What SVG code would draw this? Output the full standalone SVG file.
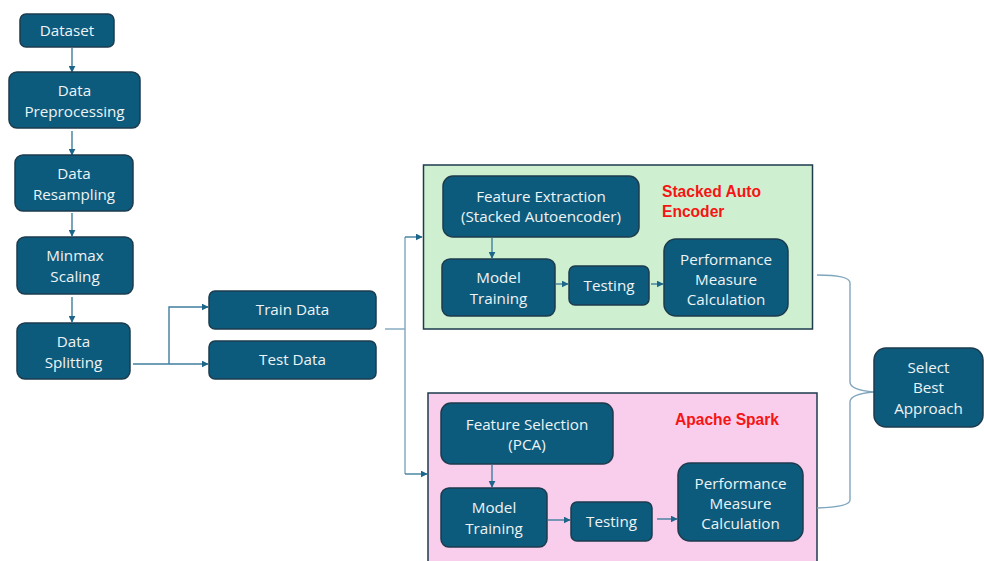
<svg xmlns="http://www.w3.org/2000/svg" width="984" height="561" viewBox="0 0 984 561">
<style>
.n{fill:#0D5B7C;stroke:#1D3B4D;stroke-width:1.5}
.t{font-family:"Open Sans","Noto Sans",sans-serif;font-size:15.2px;fill:#EEF3F6;text-anchor:middle}
.c{fill:none;stroke:#3F7E9E;stroke-width:1.4}
.b{fill:none;stroke:#7FA6BE;stroke-width:1.4}
.lbl{font-family:"Liberation Sans",Arial,sans-serif;font-size:15.6px;font-weight:bold;fill:#F51515}
</style>
<defs>
<marker id="ah" viewBox="0 0 10 10" refX="9" refY="5" markerWidth="7" markerHeight="7" markerUnits="userSpaceOnUse" orient="auto"><path d="M0,0L10,5L0,10z" fill="#1D6689"/></marker>
</defs>
<rect width="984" height="561" fill="#fff"/>
<g id="group-sae">
<rect x="423.5" y="165" width="389" height="164" fill="#CEF0D1" stroke="#1D3B4D" stroke-width="1.5"/>
<text class="lbl" x="662" y="197">Stacked Auto</text>
<text class="lbl" x="662" y="217">Encoder</text>
</g>
<g id="group-spark">
<rect x="428" y="393" width="389" height="175" fill="#F9CDEC" stroke="#1D3B4D" stroke-width="1.5"/>
<text class="lbl" x="727" y="425" text-anchor="middle">Apache Spark</text>
</g>
<g id="connectors">
<path class="c" d="M72,48V72" marker-end="url(#ah)"/>
<path class="c" d="M72,131V155" marker-end="url(#ah)"/>
<path class="c" d="M72,213V236" marker-end="url(#ah)"/>
<path class="c" d="M72,297V322" marker-end="url(#ah)"/>
<path class="c" d="M133,364H208" marker-end="url(#ah)"/>
<path class="c" d="M169,364V307H208" marker-end="url(#ah)"/>
<path class="b" d="M385,329H405"/>
<path class="b" d="M405,237V474"/>
<path class="c" d="M405,237H422" marker-end="url(#ah)"/>
<path class="c" d="M405,474H427" marker-end="url(#ah)"/>
<path class="c" d="M492,238V258" marker-end="url(#ah)"/>
<path class="c" d="M556,284H568" marker-end="url(#ah)"/>
<path class="c" d="M651,284H663" marker-end="url(#ah)"/>
<path class="c" d="M492,465V487" marker-end="url(#ah)"/>
<path class="c" d="M548,520H570" marker-end="url(#ah)"/>
<path class="c" d="M657,519H677" marker-end="url(#ah)"/>
<path class="b" d="M817,275Q850,275 850,283V382Q850,390 874,392Q850,394 850,402V500Q850,507 817,508"/>
</g>
<g id="dataset"><rect class="n" x="20" y="14" width="94" height="33" rx="6"/><text class="t" x="67" y="36">Dataset</text></g>
<g id="preprocessing"><rect class="n" x="9" y="72" width="131" height="56" rx="8"/><text class="t" x="74.5" y="96">Data</text><text class="t" x="74.5" y="117">Preprocessing</text></g>
<g id="resampling"><rect class="n" x="15" y="155" width="118" height="56" rx="8"/><text class="t" x="74" y="179">Data</text><text class="t" x="74" y="200">Resampling</text></g>
<g id="minmax"><rect class="n" x="17" y="237" width="116" height="57" rx="8"/><text class="t" x="75" y="261">Minmax</text><text class="t" x="75" y="282">Scaling</text></g>
<g id="splitting"><rect class="n" x="17" y="323" width="113" height="56" rx="8"/><text class="t" x="73.5" y="347">Data</text><text class="t" x="73.5" y="368">Splitting</text></g>
<g id="train"><rect class="n" x="209" y="291" width="167" height="38" rx="6"/><text class="t" x="292.5" y="315">Train Data</text></g>
<g id="test"><rect class="n" x="209" y="341" width="167" height="38" rx="6"/><text class="t" x="292.5" y="365">Test Data</text></g>
<g id="fe"><rect class="n" x="443" y="176" width="196" height="61" rx="10"/><text class="t" x="541" y="202">Feature Extraction</text><text class="t" x="541" y="222">(Stacked Autoencoder)</text></g>
<g id="mt1"><rect class="n" x="442" y="259" width="113" height="57" rx="8"/><text class="t" x="498.5" y="283">Model</text><text class="t" x="498.5" y="304">Training</text></g>
<g id="test1"><rect class="n" x="569" y="266" width="80" height="39" rx="6"/><text class="t" x="609" y="291">Testing</text></g>
<g id="pm1"><rect class="n" x="664" y="239" width="124" height="77" rx="12"/><text class="t" x="726" y="265">Performance</text><text class="t" x="726" y="285">Measure</text><text class="t" x="726" y="305">Calculation</text></g>
<g id="fs"><rect class="n" x="441" y="403" width="172" height="61" rx="10"/><text class="t" x="527" y="430">Feature Selection</text><text class="t" x="527" y="450">(PCA)</text></g>
<g id="mt2"><rect class="n" x="441" y="488" width="106" height="59" rx="8"/><text class="t" x="494" y="513">Model</text><text class="t" x="494" y="534">Training</text></g>
<g id="test2"><rect class="n" x="571" y="502" width="81" height="39" rx="6"/><text class="t" x="611.5" y="527">Testing</text></g>
<g id="pm2"><rect class="n" x="678" y="463" width="125" height="78" rx="12"/><text class="t" x="740.5" y="489">Performance</text><text class="t" x="740.5" y="509">Measure</text><text class="t" x="740.5" y="529">Calculation</text></g>
<g id="select"><rect class="n" x="874" y="348" width="109" height="79" rx="12"/><text class="t" x="928.5" y="373">Select</text><text class="t" x="928.5" y="393">Best</text><text class="t" x="928.5" y="414">Approach</text></g>
</svg>
